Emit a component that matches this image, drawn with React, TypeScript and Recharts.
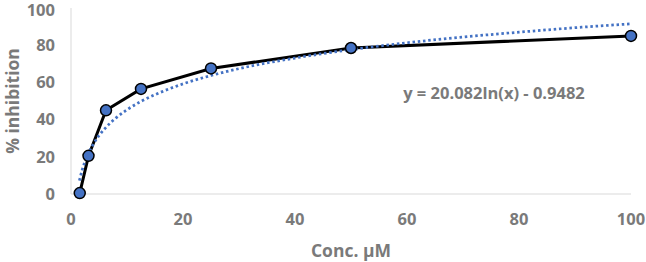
import { Line, LineChart, XAxis, YAxis } from 'recharts';

const concentrations = [1.5625, 3.125, 6.25, 12.5, 25, 50, 100];
const inhibition = [0.5, 20.5, 45, 56.5, 67.5, 78.5, 85];

// log trendline
const trendX = [1.5, 2, 2.5, 3, 4, 5, 6, 8, 10, 12.5, 15, 20, 25, 30, 40, 50, 60, 70, 80, 90, 100];
const trendY = [7.2, 13, 17.5, 21.1, 26.9, 31.4, 35, 40.8, 45.3, 49.8, 53.4, 59.2, 63.7, 67.4, 73.1, 77.6, 81.3, 84.4, 87, 89.4, 91.5];

const xTicks = [0, 20, 40, 60, 80, 100];
const yTicks = [0, 20, 40, 60, 80, 100];

const equation = 'y = 20.082ln(x) - 0.9482';

const measured = concentrations.map((x, i) => ({ x, y: inhibition[i] }));
const trend = trendX.map((x, i) => ({ x, y: trendY[i] }));

const FONT = '"Open Sans", sans-serif';
const GREY = '#7a7a7a';
const BLUE = '#4472c4';

const tickStyle = { fill: GREY, fontSize: 16.5, fontWeight: 700, fontFamily: FONT };
const titleStyle = { ...tickStyle, fontSize: 17.5 };

export default function App() {
  return (
    <div style={{ position: 'fixed', left: 0, top: 0, width: 646, height: 262, background: '#fff' }}>
      <LineChart width={646} height={262} margin={{ top: 8, right: 15, left: 0, bottom: 0 }}>
        <XAxis
          type="number"
          dataKey="x"
          domain={[0, 100]}
          ticks={xTicks}
          tickSize={0}
          tickMargin={19}
          height={68}
          stroke="#d9d9d9"
          tick={tickStyle}
          label={{
            content: ({ viewBox }: any) => (
              <text
                x={viewBox.x + viewBox.width / 2}
                y={viewBox.y + 63}
                textAnchor="middle"
                style={titleStyle}
              >
                Conc. µM
              </text>
            ),
          }}
        />
        <YAxis
          type="number"
          dataKey="y"
          domain={[0, 100]}
          ticks={yTicks}
          tickSize={0}
          tickMargin={16}
          width={71}
          stroke="#d9d9d9"
          tick={tickStyle}
          label={{
            content: ({ viewBox }: any) => {
              const cx = viewBox.x + 19;
              const cy = viewBox.y + viewBox.height / 2;
              return (
                <text
                  x={cx}
                  y={cy}
                  textAnchor="middle"
                  transform={`rotate(-90 ${cx} ${cy})`}
                  style={titleStyle}
                >
                  % inhibition
                </text>
              );
            },
          }}
        />
        <Line
          data={measured}
          dataKey="y"
          stroke="#000"
          strokeWidth={3}
          dot={{ r: 5.5, fill: BLUE, stroke: '#000', strokeWidth: 1.5 }}
          activeDot={false}
          isAnimationActive={false}
        />
        <Line
          data={trend}
          dataKey="y"
          type="monotone"
          stroke={BLUE}
          strokeWidth={2.75}
          strokeDasharray="2.5 2.75"
          dot={false}
          activeDot={false}
          isAnimationActive={false}
        />
      </LineChart>
      <div
        style={{
          position: 'absolute',
          left: 494,
          top: 92,
          transform: 'translate(-50%, -50%)',
          whiteSpace: 'nowrap',
          color: GREY,
          fontSize: 16.5,
          fontWeight: 700,
          fontFamily: FONT,
        }}
      >
        {equation}
      </div>
    </div>
  );
}
